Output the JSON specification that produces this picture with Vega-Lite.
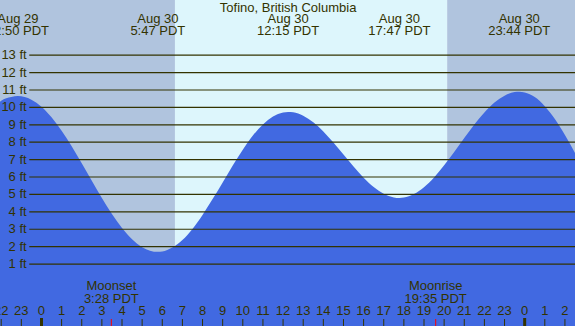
{
  "$schema": "https://vega.github.io/schema/vega-lite/v6.json",
  "width": 575,
  "height": 326,
  "padding": 0,
  "autosize": {"type": "none"},
  "config": {"view": {"stroke": null}, "font": "Liberation Sans"},
  "datasets": {
    "bands": [
      {"start": -2.06, "end": 6.63, "kind": "night"},
      {"start": 6.63, "end": 20.15, "kind": "day"},
      {"start": 20.15, "end": 26.5, "kind": "night"}
    ],
    "tide": [
      {"t": -2.06, "h": 10.33}, {"t": -2, "h": 10.38}, {"t": -1.5, "h": 10.6}, {"t": -1.17, "h": 10.65},
      {"t": -0.5, "h": 10.44}, {"t": 0, "h": 10.04}, {"t": 0.5, "h": 9.43}, {"t": 1, "h": 8.66},
      {"t": 1.5, "h": 7.77}, {"t": 2, "h": 6.79}, {"t": 2.5, "h": 5.78}, {"t": 3, "h": 4.79},
      {"t": 3.5, "h": 3.87}, {"t": 4, "h": 3.07}, {"t": 4.5, "h": 2.43}, {"t": 5, "h": 1.97},
      {"t": 5.78, "h": 1.7}, {"t": 6, "h": 1.72}, {"t": 6.5, "h": 1.95}, {"t": 7, "h": 2.38},
      {"t": 7.5, "h": 3.02}, {"t": 8, "h": 3.82}, {"t": 8.5, "h": 4.73}, {"t": 9, "h": 5.69},
      {"t": 9.5, "h": 6.66}, {"t": 10, "h": 7.57}, {"t": 10.5, "h": 8.38}, {"t": 11, "h": 9.02},
      {"t": 11.5, "h": 9.48}, {"t": 12, "h": 9.71}, {"t": 12.25, "h": 9.74}, {"t": 12.5, "h": 9.72},
      {"t": 13, "h": 9.52}, {"t": 13.5, "h": 9.14}, {"t": 14, "h": 8.62}, {"t": 14.5, "h": 7.98},
      {"t": 15, "h": 7.29}, {"t": 15.5, "h": 6.6}, {"t": 16, "h": 5.96}, {"t": 16.5, "h": 5.42},
      {"t": 17, "h": 5.04}, {"t": 17.5, "h": 4.83}, {"t": 17.78, "h": 4.8}, {"t": 18, "h": 4.82},
      {"t": 18.5, "h": 5.02}, {"t": 19, "h": 5.41}, {"t": 19.5, "h": 5.97}, {"t": 20, "h": 6.67},
      {"t": 20.5, "h": 7.44}, {"t": 21, "h": 8.24}, {"t": 21.5, "h": 9.02}, {"t": 22, "h": 9.71},
      {"t": 22.5, "h": 10.28}, {"t": 23, "h": 10.67}, {"t": 23.5, "h": 10.88}, {"t": 23.73, "h": 10.9},
      {"t": 24, "h": 10.86}, {"t": 24.5, "h": 10.59}, {"t": 25, "h": 10.07}, {"t": 25.5, "h": 9.33},
      {"t": 26, "h": 8.41}, {"t": 26.5, "h": 7.38}
    ],
    "levels": [
      {"ft": 1, "label": "1 ft"}, {"ft": 2, "label": "2 ft"}, {"ft": 3, "label": "3 ft"},
      {"ft": 4, "label": "4 ft"}, {"ft": 5, "label": "5 ft"}, {"ft": 6, "label": "6 ft"},
      {"ft": 7, "label": "7 ft"}, {"ft": 8, "label": "8 ft"}, {"ft": 9, "label": "9 ft"},
      {"ft": 10, "label": "10 ft"}, {"ft": 11, "label": "11 ft"}, {"ft": 12, "label": "12 ft"},
      {"ft": 13, "label": "13 ft"}
    ],
    "hours": [
      {"t": -2, "label": "22"}, {"t": -1, "label": "23"}, {"t": 0, "label": "0"}, {"t": 1, "label": "1"},
      {"t": 2, "label": "2"}, {"t": 3, "label": "3"}, {"t": 4, "label": "4"}, {"t": 5, "label": "5"},
      {"t": 6, "label": "6"}, {"t": 7, "label": "7"}, {"t": 8, "label": "8"}, {"t": 9, "label": "9"},
      {"t": 10, "label": "10"}, {"t": 11, "label": "11"}, {"t": 12, "label": "12"}, {"t": 13, "label": "13"},
      {"t": 14, "label": "14"}, {"t": 15, "label": "15"}, {"t": 16, "label": "16"}, {"t": 17, "label": "17"},
      {"t": 18, "label": "18"}, {"t": 19, "label": "19"}, {"t": 20, "label": "20"}, {"t": 21, "label": "21"},
      {"t": 22, "label": "22"}, {"t": 23, "label": "23"}, {"t": 24, "label": "0"}, {"t": 25, "label": "1"},
      {"t": 26, "label": "2"}
    ],
    "midnights": [{"t": 0}, {"t": 24}],
    "moon": [
      {"t": 3.47, "label": "Moonset\n3:28 PDT"},
      {"t": 19.58, "label": "Moonrise\n19:35 PDT"}
    ],
    "extremes": [
      {"t": -1.17, "label": "Aug 29\n22:50 PDT"},
      {"t": 5.78, "label": "Aug 30\n5:47 PDT"},
      {"t": 12.25, "label": "Aug 30\n12:15 PDT"},
      {"t": 17.78, "label": "Aug 30\n17:47 PDT"},
      {"t": 23.73, "label": "Aug 30\n23:44 PDT"}
    ],
    "title": [{"t": 12.25, "label": "Tofino, British Columbia"}]
  },
  "layer": [
    {
      "data": {"name": "bands"},
      "mark": {"type": "rect"},
      "encoding": {
        "x": {"field": "start", "type": "quantitative", "scale": {"domain": [-2.06, 26.5], "nice": false, "zero": false}, "axis": null},
        "x2": {"field": "end"},
        "color": {"field": "kind", "type": "nominal", "scale": {"domain": ["night", "day"], "range": ["#B0C4DE", "#DDF6FC"]}, "legend": null}
      }
    },
    {
      "data": {"name": "tide"},
      "mark": {"type": "area", "interpolate": "monotone", "color": "#4169E1", "opacity": 1, "clip": true},
      "encoding": {
        "x": {"field": "t", "type": "quantitative"},
        "y": {"field": "h", "type": "quantitative", "scale": {"domain": [-2.56, 16.17], "nice": false, "zero": false}, "axis": null},
        "y2": {"datum": -2.56}
      }
    },
    {
      "data": {"name": "levels"},
      "mark": {"type": "rule", "color": "#333300", "strokeWidth": 1.2},
      "encoding": {
        "x": {"datum": -0.606, "type": "quantitative"},
        "x2": {"datum": 26.5},
        "y": {"field": "ft", "type": "quantitative"}
      }
    },
    {
      "data": {"name": "levels"},
      "mark": {"type": "text", "align": "right", "baseline": "middle", "fontSize": 13, "color": "#333300"},
      "encoding": {
        "x": {"datum": -0.735, "type": "quantitative"},
        "y": {"field": "ft", "type": "quantitative"},
        "text": {"field": "label"}
      }
    },
    {
      "data": {"name": "hours"},
      "mark": {"type": "rule", "color": "#333300", "strokeWidth": 1},
      "encoding": {
        "x": {"field": "t", "type": "quantitative"},
        "y": {"datum": -2.16, "type": "quantitative"},
        "y2": {"datum": -2.56}
      }
    },
    {
      "data": {"name": "midnights"},
      "mark": {"type": "rule", "color": "#333300", "strokeWidth": 3},
      "encoding": {
        "x": {"field": "t", "type": "quantitative"},
        "y": {"datum": -2.1, "type": "quantitative"},
        "y2": {"datum": -2.56}
      }
    },
    {
      "data": {"name": "moon"},
      "mark": {"type": "rule", "color": "#FF0000", "strokeWidth": 1},
      "encoding": {
        "x": {"field": "t", "type": "quantitative"},
        "y": {"datum": -2.16, "type": "quantitative"},
        "y2": {"datum": -2.56}
      }
    },
    {
      "data": {"name": "hours"},
      "mark": {"type": "text", "align": "center", "baseline": "top", "fontSize": 13, "color": "#333300"},
      "encoding": {
        "x": {"field": "t", "type": "quantitative"},
        "y": {"datum": -1.38, "type": "quantitative"},
        "text": {"field": "label"}
      }
    },
    {
      "data": {"name": "moon"},
      "mark": {"type": "text", "align": "center", "baseline": "top", "fontSize": 13, "lineBreak": "\n", "lineHeight": 12.5, "color": "#333300"},
      "encoding": {
        "x": {"field": "t", "type": "quantitative"},
        "y": {"datum": 0.08, "type": "quantitative"},
        "text": {"field": "label"}
      }
    },
    {
      "data": {"name": "extremes"},
      "mark": {"type": "text", "align": "center", "baseline": "top", "fontSize": 13, "lineBreak": "\n", "lineHeight": 12.5, "color": "#333300"},
      "encoding": {
        "x": {"field": "t", "type": "quantitative"},
        "y": {"datum": 15.45, "type": "quantitative"},
        "text": {"field": "label"}
      }
    },
    {
      "data": {"name": "title"},
      "mark": {"type": "text", "align": "center", "baseline": "top", "fontSize": 13, "color": "#333300"},
      "encoding": {
        "x": {"field": "t", "type": "quantitative"},
        "y": {"datum": 16.08, "type": "quantitative"},
        "text": {"field": "label"}
      }
    }
  ]
}
